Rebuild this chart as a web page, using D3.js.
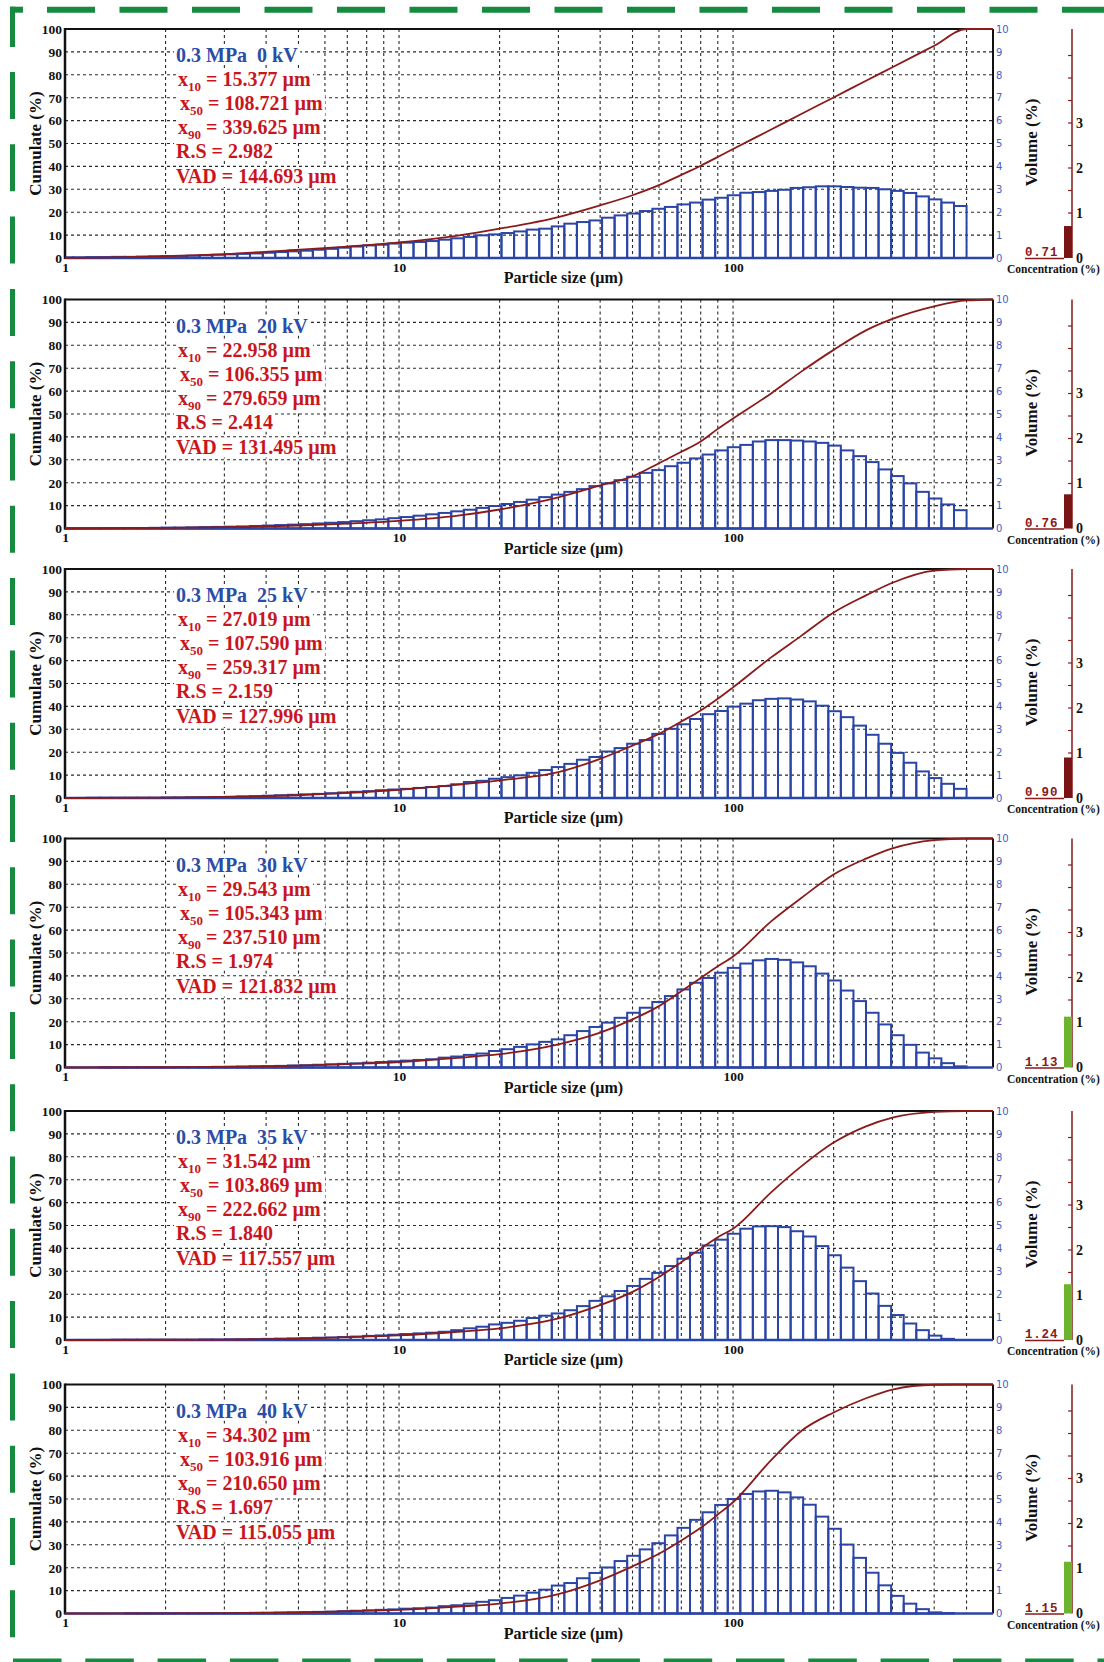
<!DOCTYPE html>
<html><head><meta charset="utf-8">
<script src="https://cdn.jsdelivr.net/npm/d3@7"></script>
<style>
body{margin:0;background:#fff}
svg{display:block}
</style>
</head><body>
<svg id="c" width="1104" height="1662"></svg>
<script>
// ---------------- DATA ----------------
// bin edges of the size classes (µm), ascending
const sizeEdges = [1.00,1.06,1.16,1.27,1.38,1.51,1.64,1.79,1.95,2.13,2.32,2.53,2.76,3.01,3.28,3.58,3.91,4.26,4.65,5.07,5.52,6.02,6.57,7.16,7.81,8.52,9.29,10.13,11.05,12.05,13.14,14.33,15.63,17.04,18.58,20.26,22.10,24.10,26.28,28.66,31.25,34.08,37.16,40.53,44.19,48.19,52.56,57.31,62.5,68.15,74.32,81.05,88.39,96.39,105.1,114.6,125,136.3,148.7,162.1,176.8,192.8,210.2,229.3,250,272.6,297.3,324.2,353.6,385.6,420.4,458.5,500];

const voltages = [0, 20, 25, 30, 35, 40];

// volume density per class (%), one per class, ascending size
const volume0kV  = [0.03,0.03,0.04,0.04,0.05,0.05,0.06,0.07,0.08,0.09,0.10,0.12,0.14,0.16,0.18,0.20,0.23,0.26,0.29,0.32,0.36,0.40,0.45,0.50,0.55,0.58,0.63,0.67,0.70,0.74,0.80,0.86,0.92,0.99,1.03,1.09,1.16,1.24,1.28,1.38,1.50,1.57,1.64,1.76,1.86,1.94,2.05,2.15,2.23,2.34,2.42,2.55,2.63,2.74,2.85,2.88,2.93,2.98,3.06,3.09,3.13,3.13,3.10,3.07,3.06,3.00,2.93,2.84,2.69,2.56,2.42,2.27];
const volume20kV = [0.01,0.01,0.01,0.02,0.02,0.02,0.02,0.03,0.04,0.04,0.05,0.06,0.07,0.08,0.09,0.11,0.13,0.15,0.17,0.19,0.22,0.25,0.28,0.32,0.36,0.40,0.45,0.50,0.56,0.62,0.68,0.75,0.82,0.90,0.98,1.07,1.16,1.26,1.37,1.48,1.60,1.72,1.85,1.97,2.11,2.26,2.43,2.55,2.72,2.87,3.06,3.23,3.41,3.55,3.65,3.80,3.86,3.86,3.84,3.80,3.74,3.62,3.41,3.16,2.90,2.58,2.29,1.97,1.60,1.31,1.05,0.80];
const volume25kV = [0,0,0.01,0.01,0.01,0.01,0.01,0.01,0.02,0.02,0.03,0.03,0.04,0.05,0.07,0.08,0.10,0.12,0.14,0.16,0.18,0.21,0.24,0.27,0.30,0.34,0.37,0.40,0.44,0.48,0.52,0.60,0.70,0.75,0.84,0.91,0.99,1.10,1.22,1.35,1.49,1.67,1.79,2.03,2.18,2.37,2.53,2.80,3.02,3.22,3.45,3.66,3.80,3.99,4.12,4.27,4.33,4.35,4.30,4.22,4.03,3.79,3.53,3.16,2.76,2.37,1.97,1.54,1.16,0.87,0.62,0.40];
const volume30kV = [0,0,0,0.01,0.01,0.01,0.01,0.01,0.01,0.01,0.01,0.02,0.03,0.03,0.04,0.05,0.06,0.07,0.09,0.10,0.12,0.14,0.16,0.18,0.21,0.24,0.27,0.30,0.33,0.36,0.43,0.48,0.55,0.61,0.72,0.80,0.90,1.01,1.12,1.23,1.41,1.59,1.77,1.96,2.17,2.39,2.61,2.86,3.12,3.41,3.70,3.91,4.14,4.35,4.54,4.68,4.74,4.70,4.59,4.42,4.10,3.80,3.36,2.90,2.39,1.88,1.41,0.99,0.65,0.40,0.19,0.05];
const volume35kV = [0,0,0,0,0.01,0.01,0.01,0.01,0.01,0.01,0.01,0.02,0.02,0.03,0.03,0.04,0.05,0.06,0.07,0.08,0.10,0.11,0.13,0.15,0.18,0.20,0.23,0.26,0.29,0.32,0.36,0.43,0.51,0.58,0.68,0.75,0.84,0.96,1.06,1.16,1.30,1.48,1.71,1.91,2.14,2.36,2.67,2.93,3.23,3.55,3.81,4.13,4.38,4.64,4.86,4.96,4.97,4.93,4.75,4.52,4.10,3.70,3.16,2.57,2.03,1.49,1.09,0.72,0.43,0.19,0.05,0];
const volume40kV = [0,0,0,0,0,0.01,0.01,0.01,0.01,0.01,0.01,0.01,0.01,0.02,0.02,0.03,0.03,0.04,0.05,0.06,0.07,0.08,0.10,0.12,0.14,0.16,0.18,0.21,0.23,0.26,0.32,0.36,0.43,0.51,0.58,0.68,0.78,0.91,1.04,1.22,1.33,1.54,1.77,2.01,2.29,2.52,2.80,3.07,3.41,3.74,4.09,4.42,4.74,5.00,5.22,5.33,5.36,5.29,5.07,4.75,4.23,3.70,3.01,2.43,1.78,1.23,0.77,0.43,0.19,0.05,0.02,0];

// cumulative undersize (%) read at these sizes (µm)
const cumSizes = [1,2,3,5,7,10,15,20,30,40,50,60,70,80,90,100,130,160,200,250,300,400,500,600];
const cumulate0kV  = [0,0.8,1.7,3.6,5.0,6.8,9.8,12.8,17.9,23,27.4,31.8,36.3,40.3,44.1,47.6,56.1,62.9,70.1,77.4,83.3,92.7,100,100];
const cumulate20kV = [0,0.3,0.6,1.3,2.1,3.3,5.6,8.3,13.6,18.8,22.8,28.5,33.5,38,43.5,48,59,68.5,78,86.5,91.5,97,99.6,100];
const cumulate25kV = [0,0.2,0.5,1.2,2.2,3.6,5.8,7.7,11.3,17.1,22.9,28,33.4,38.2,43.3,48.3,61.4,70.8,81,88.5,94,99.3,100,100];
const cumulate30kV = [0,0.1,0.3,0.8,1.5,2.4,4.2,5.8,10.1,15.2,21,26.8,33.3,39.1,44.2,48.5,63.8,74,84.3,91.2,95.7,99.3,100,100];
const cumulate35kV = [0,0.1,0.2,0.6,1.2,2.0,3.6,5.1,9.4,15.2,21,27.5,34,39.9,44.9,48.6,64.5,75.8,86.2,93.3,97.1,99.6,100,100];
const cumulate40kV = [0,0.05,0.15,0.5,1.0,1.6,3.0,4.3,8.5,14.5,20.6,26.1,31.9,37.4,43.2,48.6,67,79.7,87.8,94,97.8,99.9,100,100];

// statistics
const pressure = "0.3 MPa";
const x10Values = [15.377, 22.958, 27.019, 29.543, 31.542, 34.302];
const x50Values = [108.721, 106.355, 107.590, 105.343, 103.869, 103.916];
const x90Values = [339.625, 279.659, 259.317, 237.510, 222.662, 210.650];
const spanRS    = [2.982, 2.414, 2.159, 1.974, 1.840, 1.697];
const vadValues = [144.693, 131.495, 127.996, 121.832, 117.557, 115.055];
const concentration = [0.71, 0.76, 0.90, 1.13, 1.24, 1.15];

// axis ticks
const cumTicks = [0,10,20,30,40,50,60,70,80,90,100];
const volTicks = [0,1,2,3,4,5,6,7,8,9,10];
const sizeTickLabels = [1, 10, 100];
const gridSizes = [2,3,4,5,6,7,8,9,10,20,30,40,50,60,70,80,90,100,200,300,400,500];
const concTickLabels = [0,1,2,3];
const concMinorTicks = [0.5,1,1.5,2,2.5,3,3.5,4,4.5];

// ---------------- DRAWING ----------------
const volumes = [volume0kV, volume20kV, volume25kV, volume30kV, volume35kV, volume40kV];
const cumulates = [cumulate0kV, cumulate20kV, cumulate25kV, cumulate30kV, cumulate35kV, cumulate40kV];

const SERIF = '"Liberation Serif","Times New Roman",serif';
const BLUE = "#2b45a6", TXTBLUE = "#2a4da6", RED = "#c8161e", DARK = "#8b1a1a", GREEN = "#168a3e";
const panelTops = [29, 299.5, 569, 838.5, 1111, 1384.5];
const PH = 229, PL = 65, PR = 993;

const svg = d3.select("#c");
const x = d3.scaleLog().domain([1, 600]).range([PL, PR]);
const f3 = d3.format(".3f");

voltages.forEach((kv, i) => {
  const T = panelTops[i], B = T + PH;
  const g = svg.append("g");
  const yL = d3.scaleLinear().domain([0, 100]).range([B, T]);
  const yR = d3.scaleLinear().domain([0, 10]).range([B, T]);
  const yC = d3.scaleLinear().domain([0, 5]).range([B, B - 225]);

  // grid
  const grid = g.append("g").attr("stroke", "#2a2a2a").attr("stroke-width", 1.1).attr("stroke-dasharray", "3,3");
  grid.selectAll("line.h").data(cumTicks.filter(d => d > 0 && d < 100)).join("line")
    .attr("x1", PL).attr("x2", PR).attr("y1", d => yL(d)).attr("y2", d => yL(d));
  grid.selectAll("line.v").data(gridSizes).join("line")
    .attr("x1", d => x(d)).attr("x2", d => x(d)).attr("y1", T).attr("y2", B);

  // histogram bars
  const bins = volumes[i].map((v, j) => ({ x0: sizeEdges[j], x1: sizeEdges[j + 1], v }));
  g.append("g").selectAll("rect").data(bins.filter(d => d.v > 0)).join("rect")
    .attr("x", d => x(d.x0)).attr("width", d => x(d.x1) - x(d.x0))
    .attr("y", d => yR(d.v)).attr("height", d => B - yR(d.v))
    .attr("fill", "none").attr("stroke", BLUE).attr("stroke-width", 2);

  // statistics text (with white knock-out boxes behind each line)
  const stBg = g.append("g");
  const st = g.append("g").attr("font-family", SERIF).attr("font-weight", "bold").attr("font-size", 20);
  const lines = [];
  lines.push(st.append("text").attr("x", 176).attr("y", T + 33).attr("fill", TXTBLUE).text(`${pressure}\u00a0\u00a0${kv} kV`));
  const sub = (y, xx, subTxt, val) => {
    const t = st.append("text").attr("x", xx).attr("y", y).attr("fill", RED);
    t.append("tspan").text("x");
    t.append("tspan").attr("font-size", 13).attr("dy", 5).text(subTxt);
    t.append("tspan").attr("dy", -5).text(` = ${f3(val)} µm`);
    lines.push(t);
  };
  sub(T + 57, 178, "10", x10Values[i]);
  sub(T + 81, 180, "50", x50Values[i]);
  sub(T + 105, 178, "90", x90Values[i]);
  lines.push(st.append("text").attr("x", 176).attr("y", T + 129).attr("fill", RED).text(`R.S = ${f3(spanRS[i])}`));
  lines.push(st.append("text").attr("x", 176).attr("y", T + 154).attr("fill", RED).text(`VAD = ${f3(vadValues[i])} µm`));
  lines.forEach(t => {
    const bb = t.node().getBBox();
    stBg.append("rect").attr("x", bb.x - 2).attr("y", bb.y + 2).attr("width", bb.width + 4).attr("height", bb.height - 3).attr("fill", "#fff");
  });

  // frame
  g.append("line").attr("x1", PL).attr("x2", PR).attr("y1", T).attr("y2", T).attr("stroke", "#111").attr("stroke-width", 2);
  g.append("line").attr("x1", PR).attr("x2", PR).attr("y1", T).attr("y2", B).attr("stroke", "#111").attr("stroke-width", 2);
  g.append("line").attr("x1", PL).attr("x2", PL).attr("y1", T - 1).attr("y2", B + 1).attr("stroke", "#111").attr("stroke-width", 2.5);
  g.append("line").attr("x1", PL).attr("x2", PR).attr("y1", B).attr("y2", B).attr("stroke", BLUE).attr("stroke-width", 2.5);

  // cumulative curve
  const pts = cumSizes.map((s, j) => [s, cumulates[i][j]]);
  g.append("path").datum(pts)
    .attr("d", d3.line().x(d => x(d[0])).y(d => yL(d[1])).curve(d3.curveMonotoneX))
    .attr("fill", "none").attr("stroke", DARK).attr("stroke-width", 1.8);

  // left axis
  const ax = g.append("g").attr("transform", `translate(${PL - 3},0)`)
    .call(d3.axisLeft(yL).tickValues(cumTicks).tickSize(0).tickPadding(0));
  ax.select(".domain").remove();
  ax.selectAll("text").attr("font-family", SERIF).attr("font-weight", "bold").attr("font-size", 13.5).attr("fill", "#111");

  // bottom axis
  const bx = g.append("g").attr("transform", `translate(0,${B})`)
    .call(d3.axisBottom(x).tickValues(sizeTickLabels).tickFormat(d3.format("d")).tickSize(0).tickPadding(4));
  bx.select(".domain").remove();
  bx.selectAll("text").attr("font-family", SERIF).attr("font-weight", "bold").attr("font-size", 13.5).attr("fill", "#111");

  // right (volume) axis
  const rx = g.append("g").attr("transform", `translate(${PR + 3},0)`)
    .call(d3.axisRight(yR).tickValues(volTicks).tickSize(0).tickPadding(0));
  rx.select(".domain").remove();
  rx.selectAll("text").attr("font-family", '"DejaVu Sans",sans-serif').attr("font-size", 10).attr("fill", "#4a5bc4");

  // axis titles
  g.append("text").attr("transform", `translate(41,${T + PH / 2}) rotate(-90)`)
    .attr("text-anchor", "middle").attr("font-family", SERIF).attr("font-weight", "bold").attr("font-size", 17).attr("fill", "#111")
    .text("Cumulate (%)");
  g.append("text").attr("transform", `translate(1037,${T + PH / 2 - 1}) rotate(-90)`)
    .attr("text-anchor", "middle").attr("font-family", SERIF).attr("font-weight", "bold").attr("font-size", 17).attr("fill", "#111")
    .text("Volume (%)");
  g.append("text").attr("x", 563.5).attr("y", B + 25).attr("text-anchor", "middle")
    .attr("font-family", SERIF).attr("font-weight", "bold").attr("font-size", 16).attr("fill", "#111")
    .text("Particle size (µm)");

  // concentration gauge
  const CX = 1072;
  g.append("line").attr("x1", CX).attr("x2", CX).attr("y1", T).attr("y2", B).attr("stroke", DARK).attr("stroke-width", 1.5);
  g.selectAll("line.cmin").data(concMinorTicks).join("line")
    .attr("x1", CX - 4).attr("x2", CX).attr("y1", d => yC(d)).attr("y2", d => yC(d)).attr("stroke", DARK).attr("stroke-width", 1.2);
  const c = concentration[i];
  g.append("rect").attr("x", CX - 8).attr("width", 8).attr("y", yC(c)).attr("height", B - yC(c))
    .attr("fill", c >= 1 ? "#6cb42e" : "#7a1414");
  const cx = g.append("g").attr("transform", `translate(${CX + 4},0)`)
    .call(d3.axisRight(yC).tickValues(concTickLabels).tickFormat(d3.format("d")).tickSize(0).tickPadding(0));
  cx.select(".domain").remove();
  cx.selectAll("text").attr("font-family", SERIF).attr("font-weight", "bold").attr("font-size", 14).attr("fill", "#111");
  g.append("line").attr("x1", 1025).attr("x2", CX - 8).attr("y1", B + 0.5).attr("y2", B + 0.5).attr("stroke", DARK).attr("stroke-width", 1.5);
  g.append("text").attr("x", 1025).attr("y", B - 2)
    .attr("font-family", '"Liberation Mono","Courier New",monospace').attr("font-weight", "bold").attr("font-size", 12.5)
    .attr("letter-spacing", 0.8).attr("fill", DARK).text(d3.format(".2f")(c));
  g.append("text").attr("x", 1007).attr("y", B + 15)
    .attr("font-family", SERIF).attr("font-weight", "bold").attr("font-size", 11.5).attr("fill", "#111")
    .text("Concentration (%)");
});

// green dashed frame
const fr = svg.append("g").attr("fill", GREEN);
fr.append("rect").attr("x", 10).attr("y", 6.7).attr("width", 13).attr("height", 6);
fr.append("rect").attr("x", 10).attr("y", 6.7).attr("width", 5).attr("height", 40.3);
svg.append("line").attr("x1", 47).attr("x2", 1104).attr("y1", 9.7).attr("y2", 9.7)
  .attr("stroke", GREEN).attr("stroke-width", 6).attr("stroke-dasharray", "48,24.5");
svg.append("line").attr("x1", 12.5).attr("x2", 12.5).attr("y1", 72).attr("y2", 1662)
  .attr("stroke", GREEN).attr("stroke-width", 5).attr("stroke-dasharray", "47,25.3");
svg.append("line").attr("x1", 13).attr("x2", 1104).attr("y1", 1662).attr("y2", 1662)
  .attr("stroke", GREEN).attr("stroke-width", 7).attr("stroke-dasharray", "48.5,23.8");
</script>
</body></html>
